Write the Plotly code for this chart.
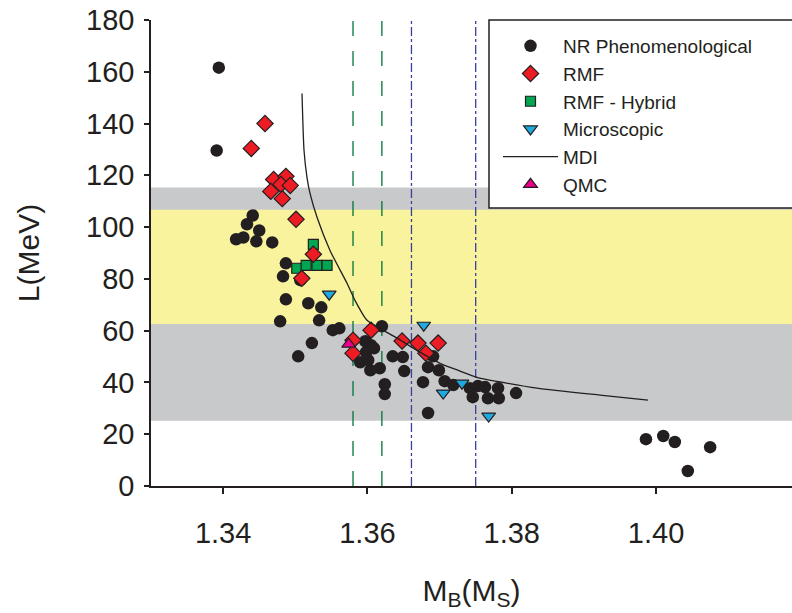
import plotly.graph_objects as go

# ---------------- data ----------------
nr_x = [1.3394, 1.3391, 1.3441, 1.3433, 1.3450, 1.3428, 1.3418, 1.3446, 1.3468, 1.3487,
        1.3483, 1.3507, 1.3487, 1.3518, 1.3536, 1.3479, 1.3533, 1.3552, 1.3561, 1.3523,
        1.3504, 1.3620, 1.3597, 1.3605, 1.3598, 1.3609, 1.3590, 1.3601, 1.3604, 1.3617,
        1.3635, 1.3649, 1.3651, 1.3624, 1.3624, 1.3691, 1.3684, 1.3699, 1.3677, 1.3707,
        1.3719, 1.3684, 1.3742, 1.3746, 1.3753, 1.3763, 1.3767, 1.3781, 1.3782, 1.3806,
        1.3986, 1.4010, 1.4026, 1.4044, 1.4075]
nr_y = [161.6, 129.6, 104.5, 101.1, 98.7, 96.0, 95.3, 94.5, 94.1, 86.0,
        81.0, 79.5, 72.1, 70.6, 69.0, 63.6, 64.0, 60.2, 60.9, 55.2,
        50.1, 61.7, 55.9, 54.4, 51.7, 53.2, 47.8, 48.6, 44.7, 45.5,
        50.1, 49.8, 44.4, 39.3, 35.5, 50.1, 45.9, 44.7, 40.1, 40.5,
        39.0, 28.2, 37.8, 34.3, 38.6, 38.2, 33.9, 37.8, 33.9, 35.9,
        18.1, 19.3, 17.0, 5.8, 15.0]

rmf_x = [1.3458, 1.3439, 1.3470, 1.3487, 1.3480, 1.3493, 1.3466, 1.3482, 1.3501, 1.3525,
         1.3509, 1.3605, 1.3580, 1.3580, 1.3648, 1.3670, 1.3698, 1.3681]
rmf_y = [140.0, 130.4, 118.4, 119.6, 116.5, 116.1, 113.8, 111.0, 103.0, 89.5,
         80.2, 60.2, 56.3, 51.3, 56.0, 55.2, 55.2, 51.3]

hyb_x = [1.3525, 1.3502, 1.3515, 1.3530, 1.3544]
hyb_y = [93.3, 84.1, 85.2, 85.2, 85.2]

mic_x = [1.3547, 1.3678, 1.3705, 1.3731, 1.3768]
mic_y = [74.1, 62.1, 35.9, 39.7, 27.0]

qmc_x = [1.3574]
qmc_y = [54.8]

mdi_x = [1.35093, 1.35121, 1.35162, 1.35204, 1.35301, 1.35481, 1.35717, 1.35827, 1.35994,
         1.36174, 1.36410, 1.36728, 1.37006, 1.37283, 1.37518, 1.38350, 1.39223, 1.39888]
mdi_y = [151.6, 129.6, 119.2, 113.0, 103.8, 91.0, 78.3, 71.7, 64.0,
         60.9, 57.1, 51.7, 47.4, 44.4, 42.0, 37.8, 35.1, 33.2]

gray_band = [25.2, 115.3]
yellow_band = [62.6, 106.7]
green_lines = [1.358, 1.362]
blue_lines = [1.3661, 1.375]

x_ticks = [1.34, 1.36, 1.38, 1.40]
y_ticks = [0, 20, 40, 60, 80, 100, 120, 140, 160, 180]

# ---------------- styles ----------------
DARK = "#231f20"
FONT = "Liberation Sans"

fig = go.Figure()

fig.add_trace(go.Scatter(
    x=nr_x, y=nr_y, mode="markers", name="NR Phenomenological", legendrank=1,
    marker=dict(symbol="circle", size=12.5, color=DARK, line=dict(width=0))))
fig.add_trace(go.Scatter(
    x=hyb_x, y=hyb_y, mode="markers", name="RMF - Hybrid", legendrank=3,
    marker=dict(symbol="square", size=10, color="#00a651", line=dict(width=1.2, color=DARK))))
fig.add_trace(go.Scatter(
    x=rmf_x, y=rmf_y, mode="markers", name="RMF", legendrank=2,
    marker=dict(symbol="diamond", size=12.5, color="#ed1c24", line=dict(width=1.2, color=DARK))))
fig.add_trace(go.Scatter(
    x=mic_x, y=mic_y, mode="markers", name="Microscopic", legendrank=4,
    marker=dict(symbol="triangle-down", size=12, color="#1fa9e1", line=dict(width=1.2, color=DARK))))
fig.add_trace(go.Scatter(
    x=mdi_x, y=mdi_y, mode="lines", name="MDI", legendrank=5,
    line=dict(color=DARK, width=1.3, shape="spline", smoothing=0.6)))
fig.add_trace(go.Scatter(
    x=qmc_x, y=qmc_y, mode="markers", name="QMC", legendrank=6,
    marker=dict(symbol="triangle-up", size=12, color="#ec008c", line=dict(width=1.2, color=DARK))))

shapes = []
shapes.append(dict(type="rect", xref="paper", yref="y", x0=0, x1=1,
                   y0=gray_band[0], y1=gray_band[1], fillcolor="#c8c9cb",
                   line=dict(width=0), layer="below"))
shapes.append(dict(type="rect", xref="paper", yref="y", x0=0, x1=1,
                   y0=yellow_band[0], y1=yellow_band[1], fillcolor="#f8f39c",
                   line=dict(width=0), layer="below"))
for gx in green_lines:
    shapes.append(dict(type="line", xref="x", yref="paper", x0=gx, x1=gx, y0=0, y1=1,
                       line=dict(color="#00733a", width=1.3, dash="longdash"), layer="below"))
for bx in blue_lines:
    shapes.append(dict(type="line", xref="x", yref="paper", x0=bx, x1=bx, y0=0, y1=1,
                       line=dict(color="#3a3f9e", width=1.3, dash="dashdot"), layer="below"))
# legend box
shapes.append(dict(type="rect", xref="paper", yref="paper",
                   x0=(489 - 151) / 641, x1=1.05, y0=1 - (208 - 20) / 466, y1=1,
                   fillcolor="white", line=dict(color=DARK, width=1.5), layer="above"))

fig.update_layout(
    width=792, height=613,
    margin=dict(l=151, r=0, t=20, b=127),
    paper_bgcolor="white", plot_bgcolor="white",
    font=dict(family=FONT, color=DARK),
    shapes=shapes,
    showlegend=True,
    legend=dict(x=(498 - 151) / 641, y=0.985, xanchor="left", yanchor="top",
                bgcolor="rgba(0,0,0,0)", borderwidth=0,
                font=dict(family=FONT, size=19, color=DARK),
                itemwidth=55, tracegroupgap=0),
    xaxis=dict(range=[1.33, 1.33 + 641 / 7215], tickvals=x_ticks,
               ticktext=[f"{v:.2f}" for v in x_ticks],
               showgrid=False, zeroline=False, showline=True, linecolor=DARK, linewidth=1.5,
               ticks="outside", ticklen=6, tickwidth=1.5, tickcolor=DARK,
               tickfont=dict(family=FONT, size=29, color=DARK), ticklabelstandoff=14,
               title=dict(text="M<sub>B</sub>(M<sub>S</sub>)",
                          font=dict(family=FONT, size=30, color=DARK), standoff=32)),
    yaxis=dict(range=[0, 180], tickvals=y_ticks,
               showgrid=False, zeroline=False, showline=True, linecolor=DARK, linewidth=1.5,
               ticks="outside", ticklen=5, tickwidth=1.5, tickcolor=DARK,
               tickfont=dict(family=FONT, size=29, color=DARK), ticklabelstandoff=4,
               title=dict(text="L(MeV)", font=dict(family=FONT, size=30, color=DARK),
                          standoff=38)),
)

fig.write_html("out.html")
